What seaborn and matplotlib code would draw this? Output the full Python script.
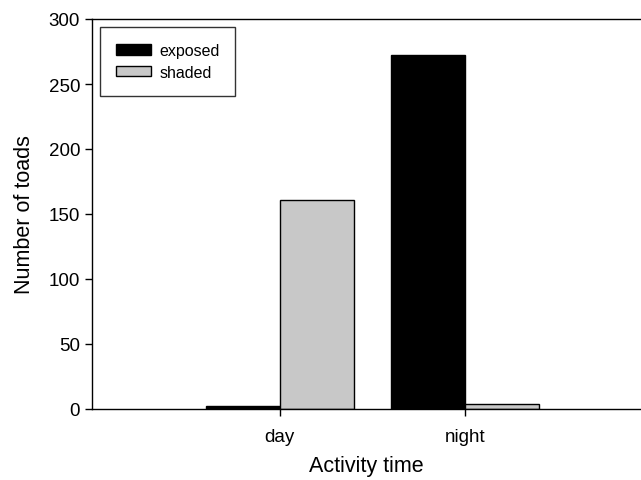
import matplotlib
matplotlib.use("Agg")
import matplotlib.pyplot as plt
import pandas as pd
import seaborn as sns

times = ["day", "night"]
groups = ["exposed", "shaded"]
exposed = [2, 272]
shaded = [161, 4]

df = pd.DataFrame({
    "time": times * 2,
    "group": ["exposed"] * 2 + ["shaded"] * 2,
    "count": exposed + shaded,
})

sns.set_style("ticks")
plt.rcParams["font.family"] = ["Liberation Sans", "DejaVu Sans"]
plt.rcParams["text.color"] = "black"
plt.rcParams["axes.labelcolor"] = "black"
plt.rcParams["xtick.color"] = "black"
plt.rcParams["ytick.color"] = "black"

fig = plt.figure(figsize=(6.41, 4.81), dpi=100)
ax = fig.add_axes([92 / 641, 71 / 481, 1 - 92 / 641, 390 / 481])

sns.barplot(data=df, x="time", y="count", hue="group", hue_order=groups,
            palette=["black", "#c8c8c8"], edgecolor="black", linewidth=1,
            width=0.8, gap=0, ax=ax)

ax.set_xlim(-1.015, 1.953)
ax.set_ylim(0, 300)
ax.set_yticks(range(0, 301, 50))
ax.set_xlabel("Activity time", fontsize=15.5, labelpad=7)
ax.set_ylabel("Number of toads", fontsize=15.5, labelpad=10)
ax.tick_params(axis="both", labelsize=13.5, direction="out", length=5, width=1)
ax.tick_params(axis="x", pad=9)
for s in ["left", "bottom", "top"]:
    ax.spines[s].set_color("black")
    ax.spines[s].set_linewidth(1)
ax.spines["right"].set_visible(False)

ax.legend(loc="upper left", bbox_to_anchor=(0.0146, 0.979), borderaxespad=0,
          fontsize=11.5, frameon=True, fancybox=False, edgecolor="black",
          handlelength=2.2, handleheight=0.6, handletextpad=0.5,
          borderpad=1.0, labelspacing=0.4)

fig.savefig("out.png", dpi=100)
